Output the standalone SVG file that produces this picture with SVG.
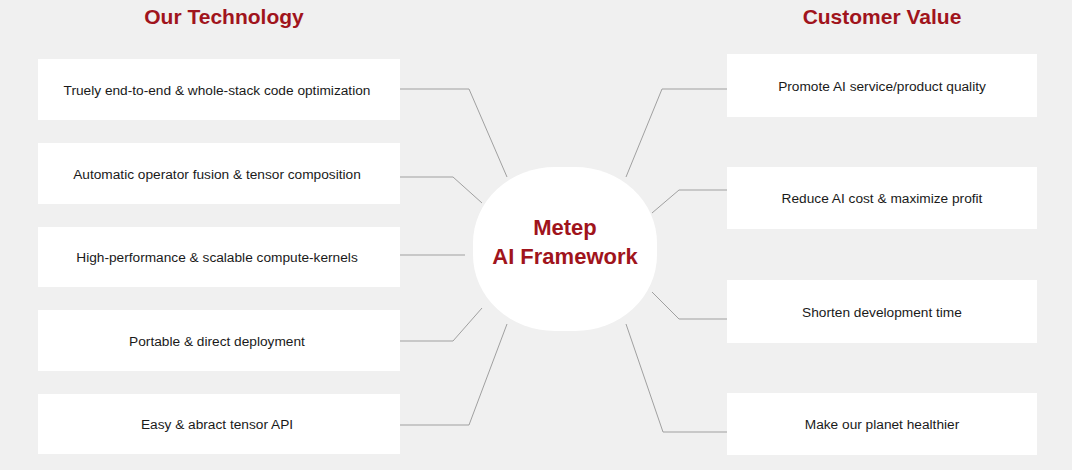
<svg xmlns="http://www.w3.org/2000/svg" width="1072" height="470" viewBox="0 0 1072 470">
<style>
.box{fill:#ffffff;}
.lbl{font-family:"Liberation Sans",Arial,sans-serif;font-size:13.7px;fill:#1a1a1a;text-anchor:middle;}
.title{font-family:"Liberation Sans",Arial,sans-serif;font-size:21px;font-weight:bold;fill:#a0141c;text-anchor:middle;}
.hub{font-family:"Liberation Sans",Arial,sans-serif;font-size:22px;font-weight:bold;fill:#a0141c;text-anchor:middle;}
.conn{fill:none;stroke:#a0a0a0;stroke-width:1;}
</style>
<rect x="0" y="0" width="1072" height="470" fill="#f0f0f0"/>
<text class="title" x="224" y="24">Our Technology</text>
<text class="title" x="882" y="24">Customer Value</text>
<g id="connectors">
<polyline class="conn" points="400,89 469,89 507,177"/>
<polyline class="conn" points="400,177 453,177 482,203"/>
<polyline class="conn" points="400,255 465,255"/>
<polyline class="conn" points="400,341 453,341 482,308"/>
<polyline class="conn" points="400,425 469,425 507,324"/>
<polyline class="conn" points="727,89 662,89 626,177"/>
<polyline class="conn" points="727,190 679,190 652,213"/>
<polyline class="conn" points="727,319 679,319 652,292"/>
<polyline class="conn" points="727,432 663,432 626,324"/>
</g>
<g id="hub">
<rect x="473" y="167" width="184" height="164" rx="82" ry="76" fill="#ffffff"/>
<text class="hub" x="565" y="235">Metep</text>
<text class="hub" x="565" y="264">AI Framework</text>
</g>
<g id="tech1"><rect class="box" x="38" y="59" width="362" height="61"/><text class="lbl" x="217" y="94.5">Truely end-to-end &amp; whole-stack code optimization</text></g>
<g id="tech2"><rect class="box" x="38" y="143" width="362" height="61"/><text class="lbl" x="217" y="178.5">Automatic operator fusion &amp; tensor composition</text></g>
<g id="tech3"><rect class="box" x="38" y="227" width="362" height="60"/><text class="lbl" x="217" y="262">High-performance &amp; scalable compute-kernels</text></g>
<g id="tech4"><rect class="box" x="38" y="310" width="362" height="61"/><text class="lbl" x="217" y="345.5">Portable &amp; direct deployment</text></g>
<g id="tech5"><rect class="box" x="38" y="394" width="362" height="60"/><text class="lbl" x="217" y="429">Easy &amp; abract tensor API</text></g>
<g id="value1"><rect class="box" x="727" y="54" width="310" height="63"/><text class="lbl" x="882" y="90.5">Promote AI service/product quality</text></g>
<g id="value2"><rect class="box" x="727" y="167" width="310" height="62"/><text class="lbl" x="882" y="203">Reduce AI cost &amp; maximize profit</text></g>
<g id="value3"><rect class="box" x="727" y="280" width="310" height="63"/><text class="lbl" x="882" y="316.5">Shorten development time</text></g>
<g id="value4"><rect class="box" x="727" y="393" width="310" height="62"/><text class="lbl" x="882" y="429">Make our planet healthier</text></g>
</svg>
